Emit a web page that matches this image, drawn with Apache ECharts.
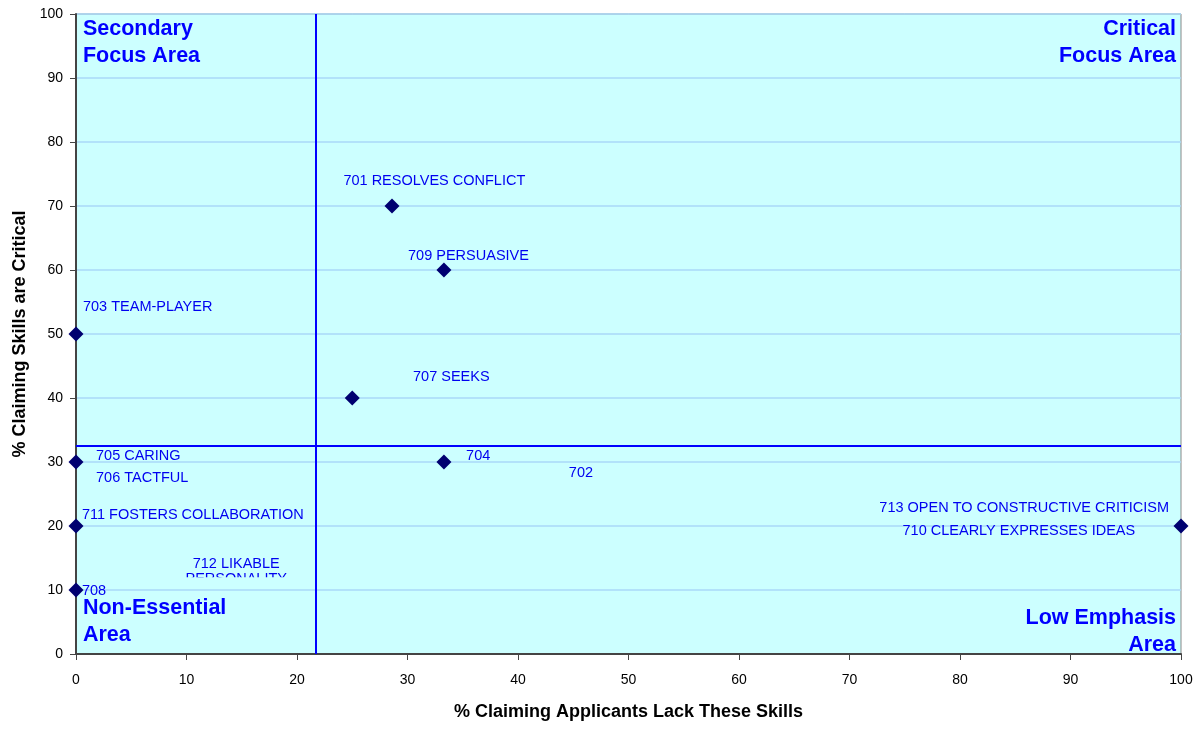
<!DOCTYPE html>
<html><head><meta charset="utf-8">
<script src="https://cdn.jsdelivr.net/npm/echarts@6/dist/echarts.min.js"></script>
<style>html,body{margin:0;padding:0;background:#fff}#c{width:1201px;height:729px}</style>
</head><body><div id="c"></div>
<script>
// Data points: [% lack skills, % critical]
const pointX = [0, 28.6, 33.3, 25, 33.3, 0, 0, 0, 100];
const pointY = [50, 70, 60, 40, 30, 30, 20, 10, 20];

// Point annotation texts with their anchor (data units)
const labelText = ['701 RESOLVES CONFLICT','709 PERSUASIVE','707 SEEKS','704','702','703 TEAM-PLAYER','705 CARING','706 TACTFUL','711 FOSTERS COLLABORATION','708','713 OPEN TO CONSTRUCTIVE CRITICISM','710 CLEARLY EXPRESSES IDEAS'];
const labelX = [24.2, 30.05, 30.5, 35.3, 44.6, 0.63, 1.81, 1.81, 0.54, 0.54, 72.7, 74.8];
const labelY = [73.9, 62.2, 43.3, 30.9, 28.3, 54.2, 30.9, 27.5, 21.7, 9.8, 22.8, 19.2];
// clipped two-line annotation
const clipText = '712 LIKABLE\nPERSONALITY';
const clipX = 14.5, clipY = 14.2, clipCutY = 12.0;

// Quadrant titles
const quadText = ['Secondary','Focus Area','Critical','Focus Area','Non-Essential','Area','Low Emphasis','Area'];
const quadX = [0.63, 0.63, 99.55, 99.55, 0.63, 0.63, 99.55, 99.55];
const quadY = [97.7, 93.4, 97.7, 93.4, 7.2, 3.0, 5.6, 1.4];
const quadAlign = ['left','left','right','right','left','left','right','right'];

// Divider lines
const divideX = 21.7;
const divideY = 32.5;

const xTicks = {min: 0, max: 100, interval: 10};
const yTicks = {min: 0, max: 100, interval: 10};

const chart = echarts.init(document.getElementById('c'));
const font = 'Arial, "Liberation Sans", sans-serif';

const option = {
  animation: false,
  backgroundColor: '#ffffff',
  grid: {left: 76, right: 20, top: 14, bottom: 75, show: true, backgroundColor: '#ccffff', borderColor: '#888888', borderWidth: 1},
  xAxis: {
    type: 'value', min: xTicks.min, max: xTicks.max, interval: xTicks.interval,
    name: '% Claiming Applicants Lack These Skills', nameLocation: 'middle', nameGap: 49,
    nameTextStyle: {fontFamily: font, fontWeight: 'bold', fontSize: 18, color: '#000'},
    axisLine: {show: true, lineStyle: {color: '#444', width: 2}},
    axisTick: {show: true, length: 6, lineStyle: {color: '#444'}},
    axisLabel: {fontFamily: font, fontSize: 14, color: '#000', margin: 19},
    splitLine: {show: false}
  },
  yAxis: {
    type: 'value', min: yTicks.min, max: yTicks.max, interval: yTicks.interval,
    name: '% Claiming Skills are Critical', nameLocation: 'middle', nameGap: 45,
    nameTextStyle: {fontFamily: font, fontWeight: 'bold', fontSize: 18, color: '#000'},
    axisLine: {show: true, lineStyle: {color: '#444', width: 2}},
    axisTick: {show: true, length: 6, lineStyle: {color: '#444'}},
    axisLabel: {fontFamily: font, fontSize: 14, color: '#000', margin: 13},
    splitLine: {show: true, lineStyle: {color: '#aad8f8', width: 1.5}}
  },
  series: [
    {
      type: 'scatter', symbol: 'diamond', symbolSize: 15,
      itemStyle: {color: '#000070', opacity: 1},
      data: pointX.map((x, i) => [x, pointY[i]]),
      clip: false, z: 5,
      markLine: {
        silent: true, symbol: 'none', label: {show: false},
        lineStyle: {color: '#0000ff', width: 2, type: 'solid', opacity: 1},
        data: [{xAxis: divideX}, {yAxis: divideY}]
      }
    },
    {
      type: 'scatter', symbolSize: 1, itemStyle: {color: 'rgba(0,0,0,0)', opacity: 1}, silent: true, z: 6,
      data: labelX.map((x, i) => ({value: [x, labelY[i]], label: {formatter: labelText[i]}})),
      label: {show: true, position: 'inside', align: 'left', verticalAlign: 'middle', opacity: 1,
        fontFamily: font, fontSize: 14.5, color: '#0000f0'},
      emphasis: {disabled: true}
    },
    {
      type: 'scatter', symbolSize: 1, itemStyle: {color: 'rgba(0,0,0,0)', opacity: 1}, silent: true, z: 6,
      data: [{value: [clipX, clipY], label: {formatter: clipText}}],
      label: {show: true, position: 'inside', align: 'center', verticalAlign: 'top', opacity: 1,
        fontFamily: font, fontSize: 14.5, color: '#0000f0', lineHeight: 15, padding: [-7, 0, 0, 0]},
      emphasis: {disabled: true}
    },
    {
      type: 'scatter', symbolSize: 1, itemStyle: {color: 'rgba(0,0,0,0)', opacity: 1}, silent: true, z: 6,
      data: quadX.map((x, i) => ({value: [x, quadY[i]], label: {formatter: quadText[i], align: quadAlign[i]}})),
      label: {show: true, position: 'inside', verticalAlign: 'middle', opacity: 1,
        fontFamily: font, fontSize: 21.5, fontWeight: 'bold', color: '#0000ff'},
      emphasis: {disabled: true}
    }
  ]
};
chart.setOption(option);

// cover lower part of the clipped annotation with plot background
const p1 = chart.convertToPixel({gridIndex: 0}, [clipX, clipCutY]);
const p0 = chart.convertToPixel({gridIndex: 0}, [clipX, clipY]);
chart.setOption({graphic: [{
  type: 'rect', z: 100, silent: true,
  shape: {x: p0[0] - 70, y: p1[1], width: 140, height: 9},
  style: {fill: '#ccffff'}
}]});
</script>
</body></html>
